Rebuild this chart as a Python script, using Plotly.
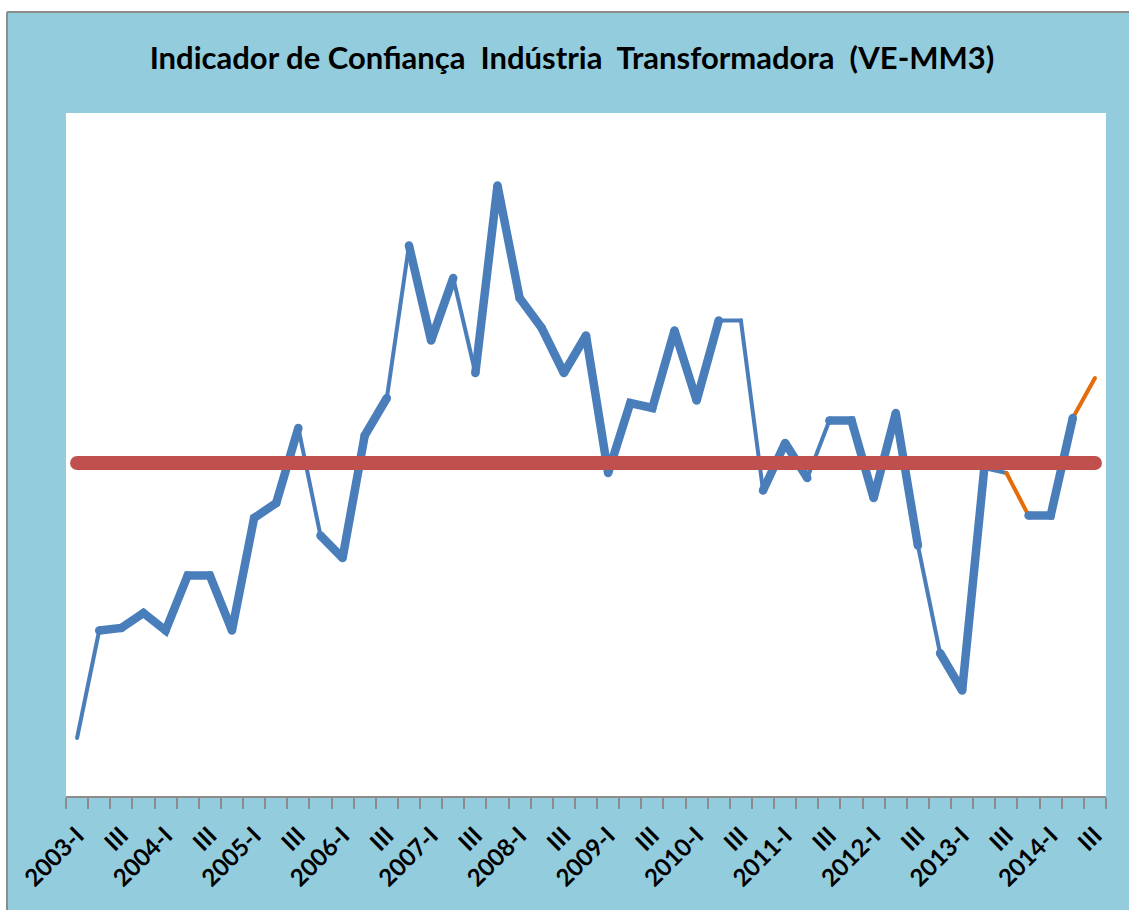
import plotly.graph_objects as go

# ---------------- data ----------------
quarters = [
    "2003-I", "2003-II", "2003-III", "2003-IV",
    "2004-I", "2004-II", "2004-III", "2004-IV",
    "2005-I", "2005-II", "2005-III", "2005-IV",
    "2006-I", "2006-II", "2006-III", "2006-IV",
    "2007-I", "2007-II", "2007-III", "2007-IV",
    "2008-I", "2008-II", "2008-III", "2008-IV",
    "2009-I", "2009-II", "2009-III", "2009-IV",
    "2010-I", "2010-II", "2010-III", "2010-IV",
    "2011-I", "2011-II", "2011-III", "2011-IV",
    "2012-I", "2012-II", "2012-III", "2012-IV",
    "2013-I", "2013-II", "2013-III", "2013-IV",
    "2014-I", "2014-II", "2014-III",
]

tick_labels = [
    "2003-I", "III", "2004-I", "III", "2005-I", "III", "2006-I", "III",
    "2007-I", "III", "2008-I", "III", "2009-I", "III", "2010-I", "III",
    "2011-I", "III", "2012-I", "III", "2013-I", "III", "2014-I", "III",
]

valores = [
    -11.0, -6.7, -6.6, -6.0, -6.7, -4.5, -4.5, -6.7,
    -2.2, -1.6, 1.4, -2.9, -3.8, 1.1, 2.6, 8.7,
    4.9, 7.4, 3.6, 11.1, 6.6, 5.4, 3.6, 5.1,
    -0.4, 2.4, 2.2, 5.3, 2.5, 5.7, 5.7, -1.1,
    0.8, -0.6, 1.7, 1.7, -1.4, 2.0, -3.3, -7.6,
    -9.1, -0.2, -0.4, -2.1, -2.1, 1.8, 3.4,
]

media = 0.0

# style of each segment between consecutive quarters
# "fino" = thin blue, "grosso" = thick blue, "laranja" = thin orange
seg_estilo = (
    ["fino"] + ["grosso"] * 9 + ["fino"] + ["grosso"] * 3 + ["fino"]
    + ["grosso"] * 2 + ["fino"] + ["grosso"] * 11 + ["fino", "fino"]
    + ["grosso"] * 2 + ["fino"] + ["grosso"] * 4 + ["fino"]
    + ["grosso"] * 2 + ["fino", "laranja"] + ["grosso"] * 2 + ["laranja"]
)

# ---------------- styles ----------------
BG = "#93CDDD"
BLUE = "#4A7EBB"
ORANGE = "#E46C0A"
RED = "#C0504D"
GRAY = "#8C8C8C"
FONT = "Lato, Liberation Sans, sans-serif"
style_map = {
    "fino": dict(color=BLUE, width=4),
    "laranja": dict(color=ORANGE, width=4),
    "grosso": dict(color=BLUE, width=8.5),
}
draw_order = ["fino", "laranja", "grosso"]

fig = go.Figure()

# group consecutive segments of same style into runs
runs = []
start = 0
for s in range(1, len(seg_estilo) + 1):
    if s == len(seg_estilo) or seg_estilo[s] != seg_estilo[start]:
        runs.append((seg_estilo[start], start, s))
        start = s

for kind in draw_order:
    st = style_map[kind]
    for k, a, b in runs:
        if k != kind:
            continue
        fig.add_trace(go.Scatter(
            x=quarters[a:b + 1], y=valores[a:b + 1],
            mode="lines+markers",
            line=dict(color=st["color"], width=st["width"]),
            marker=dict(color=st["color"], size=st["width"], line=dict(width=0)),
            hoverinfo="skip", showlegend=False,
        ))

# average line
fig.add_trace(go.Scatter(
    x=[quarters[0], quarters[-1]], y=[media, media],
    mode="lines+markers",
    line=dict(color=RED, width=14),
    marker=dict(color=RED, size=14, line=dict(width=0)),
    hoverinfo="skip", showlegend=False,
))

ticktext = []
for i, q in enumerate(quarters):
    ticktext.append(tick_labels[i // 2] if i % 2 == 0 else "")

fig.update_layout(
    width=1129, height=910,
    margin=dict(l=66, r=23, t=113, b=114),
    paper_bgcolor=BG,
    plot_bgcolor="white",
    showlegend=False,
    title=dict(
        text="Indicador de Confiança  Indústria  Transformadora  (VE-MM3)",
        x=572 / 1129, xanchor="center", xref="container",
        y=1 - 58 / 910, yanchor="middle", yref="container",
        font=dict(family=FONT, size=31, color="black", weight="bold"),
    ),
    xaxis=dict(
        type="category",
        categoryorder="array", categoryarray=quarters,
        range=[-0.5, len(quarters) - 0.5],
        tickmode="array", tickvals=quarters, ticktext=ticktext,
        tickson="boundaries",
        ticks="outside", ticklen=11, tickwidth=1.5, tickcolor=GRAY,
        ticklabelstandoff=14,
        showline=True, linecolor=GRAY, linewidth=2,
        showgrid=False, zeroline=False,
        tickangle=-45,
        tickfont=dict(family=FONT, size=24, color="black", weight="bold"),
    ),
    yaxis=dict(
        range=[-13.32, 14.0],
        showticklabels=False, showgrid=False, zeroline=False,
        showline=False, ticks="",
    ),
    shapes=[
        # white strip at the top of the image and left side, with gray frame lines
        dict(type="rect", xref="paper", yref="paper", x0=-0.2, x1=1.2,
             y0=(796 - 12) / 683, y1=1.3, fillcolor="white", line=dict(width=0), layer="below"),
        dict(type="rect", xref="paper", yref="paper", x0=-0.2, x1=(7 - 66) / 1040,
             y0=-0.3, y1=1.3, fillcolor="white", line=dict(width=0), layer="below"),
        dict(type="line", xref="paper", yref="paper", x0=(7 - 66) / 1040, x1=1.2,
             y0=(796 - 12) / 683, y1=(796 - 12) / 683, line=dict(color=GRAY, width=2)),
        dict(type="line", xref="paper", yref="paper", x0=(7 - 66) / 1040, x1=(7 - 66) / 1040,
             y0=-0.3, y1=(796 - 12) / 683, line=dict(color=GRAY, width=2)),
    ],
)

fig.write_html("out.html", config={"displayModeBar": False},
               post_script="document.body.style.margin='0';")
